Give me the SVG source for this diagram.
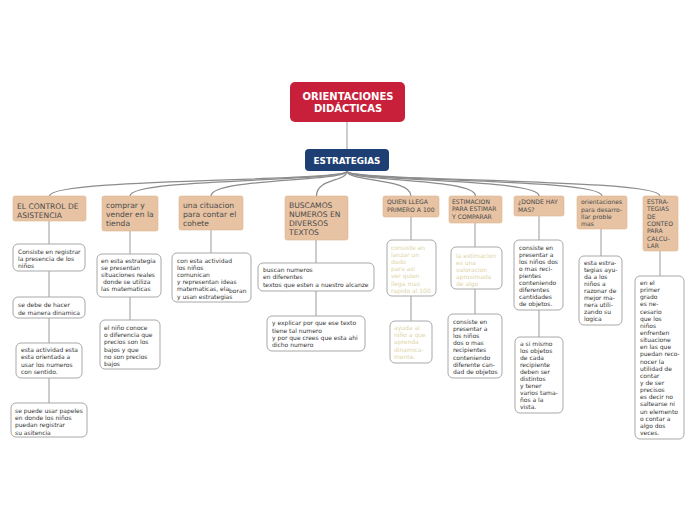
<svg xmlns="http://www.w3.org/2000/svg" width="696" height="520" viewBox="0 0 696 520">
<style>
.bg{fill:#ffffff}
.conn path{fill:none;stroke:#8c8c8c;stroke-width:1.3}
.conn line{stroke:#9a9a9a;stroke-width:1}
.root rect{fill:#c8203a}
.main rect{fill:#1e3f73}
.wt{fill:#ffffff;font-family:"DejaVu Sans",Verdana,sans-serif;font-weight:bold}
.tan rect{fill:#e7c3a3;stroke:#dcb592;stroke-width:0.6}
.tt{fill:#4a4a4a;font-family:"DejaVu Sans",Verdana,sans-serif;font-size:7.6px}
.ts{fill:#4a4a4a;font-family:"DejaVu Sans",Verdana,sans-serif;font-size:6.1px}
.box rect{fill:#ffffff;stroke:#a8a8a8;stroke-width:1}
.bt{fill:#333333;font-family:"DejaVu Sans",Verdana,sans-serif;font-size:6px}
.ft{fill:#ddd3a6;font-family:"DejaVu Sans",Verdana,sans-serif;font-size:6px}
</style>
<rect class="bg" x="0" y="0" width="696" height="520"/>
<g class="conn">
<line x1="347" y1="122" x2="347" y2="149"/>
<path d="M347,171 C347,182 49.5,178 49.5,196"/>
<path d="M347,171 C347,182 130,178 130,196"/>
<path d="M347,171 C347,182 211,178 211,196"/>
<path d="M347,171 C347,182 316.5,178 316.5,196"/>
<path d="M347,171 C347,182 411,178 411,196"/>
<path d="M347,171 C347,182 475.5,178 475.5,196"/>
<path d="M347,171 C347,182 539,178 539,196"/>
<path d="M347,171 C347,182 602,178 602,196"/>
<path d="M347,171 C347,182 660,178 660,196"/>
<line x1="49" y1="221" x2="49" y2="244"/>
<line x1="49" y1="271" x2="49" y2="297"/>
<line x1="49" y1="318" x2="49" y2="343"/>
<line x1="49" y1="378" x2="49" y2="403"/>
<line x1="130" y1="231" x2="130" y2="254"/>
<line x1="130" y1="297" x2="130" y2="320"/>
<line x1="211" y1="230" x2="211" y2="253"/>
<line x1="316" y1="240" x2="316" y2="263"/>
<line x1="316" y1="291" x2="316" y2="316"/>
<line x1="411" y1="217" x2="411" y2="240"/>
<line x1="411" y1="296" x2="411" y2="321"/>
<line x1="475" y1="223" x2="475" y2="247"/>
<line x1="475" y1="289" x2="475" y2="314"/>
<line x1="539" y1="216" x2="539" y2="240"/>
<line x1="539" y1="310" x2="539" y2="337"/>
<line x1="601" y1="229" x2="601" y2="256"/>
<line x1="660" y1="251" x2="660" y2="276"/>
</g>
<g id="root" class="root">
<rect x="290" y="82" width="115" height="40" rx="5"/>
<text class="wt" font-size="10" text-anchor="middle"><tspan x="348" y="99.7">ORIENTACIONES</tspan><tspan x="348" y="111.7">DIDÁCTICAS</tspan></text>
</g>
<g id="estrategias" class="main">
<rect x="305" y="149" width="84" height="22" rx="4"/>
<text class="wt" font-size="8.8" x="347" y="164" text-anchor="middle">ESTRATEGIAS</text>
</g>
<g id="n1" class="tan">
<rect x="13" y="196" width="73" height="25" rx="2"/>
<text class="tt"><tspan x="17" y="208.5">EL CONTROL DE</tspan><tspan x="17" y="217.5">ASISTENCIA</tspan></text>
</g>
<g id="n2" class="tan">
<rect x="102" y="196" width="56" height="35" rx="2"/>
<text class="tt"><tspan x="106" y="207.5">comprar y</tspan><tspan x="106" y="216.5">vender en la</tspan><tspan x="106" y="225.5">tienda</tspan></text>
</g>
<g id="n3" class="tan">
<rect x="179" y="196" width="64" height="34" rx="2"/>
<text class="tt"><tspan x="183" y="207.5">una cituacion</tspan><tspan x="183" y="216.5">para contar el</tspan><tspan x="183" y="225.5">cohete</tspan></text>
</g>
<g id="n4" class="tan">
<rect x="285" y="196" width="63" height="44" rx="2"/>
<text class="tt"><tspan x="289" y="207.5">BUSCAMOS</tspan><tspan x="289" y="216.5">NUMEROS EN</tspan><tspan x="289" y="225.5">DIVERSOS</tspan><tspan x="289" y="234.5">TEXTOS</tspan></text>
</g>
<g id="n5" class="tan">
<rect x="383" y="196" width="56" height="21" rx="2"/>
<text class="ts"><tspan x="387" y="204.2">QUIEN LLEGA</tspan><tspan x="387" y="211.8">PRIMERO A 100</tspan></text>
</g>
<g id="n6" class="tan">
<rect x="449" y="196" width="53" height="27" rx="2"/>
<text class="ts"><tspan x="452" y="204">ESTIMACION</tspan><tspan x="452" y="211.4">PARA ESTIMAR</tspan><tspan x="452" y="218.8">Y COMPARAR</tspan></text>
</g>
<g id="n7" class="tan">
<rect x="514" y="196" width="50" height="20" rx="2"/>
<text class="ts"><tspan x="518" y="204">¿DONDE HAY</tspan><tspan x="518" y="211.5">MAS?</tspan></text>
</g>
<g id="n8" class="tan">
<rect x="577" y="196" width="50" height="33" rx="2"/>
<text class="ts" font-size="5.9"><tspan x="581" y="204">orientaciones</tspan><tspan x="581" y="211.5">para desarro-</tspan><tspan x="581" y="218.5">llar proble</tspan><tspan x="581" y="225.5">mas</tspan></text>
</g>
<g id="n9" class="tan">
<rect x="643" y="196" width="35" height="55" rx="2"/>
<text class="ts"><tspan x="647" y="203.5">ESTRA-</tspan><tspan x="647" y="211">TEGIAS</tspan><tspan x="647" y="218.5">DE</tspan><tspan x="647" y="226">CONTEO</tspan><tspan x="647" y="233">PARA</tspan><tspan x="647" y="240.5">CALCU-</tspan><tspan x="647" y="247.5">LAR</tspan></text>
</g>
<g id="c1a" class="box">
<rect x="13" y="244" width="72" height="27" rx="5"/>
<text class="bt"><tspan x="18" y="253.5">Consiste en registrar</tspan><tspan x="18" y="260.8">la presencia de los</tspan><tspan x="18" y="268">niños</tspan></text>
</g>
<g id="c1b" class="box">
<rect x="13" y="297" width="72" height="21" rx="5"/>
<text class="bt"><tspan x="18" y="307">se debe de hacer</tspan><tspan x="18" y="314.5">de manera dinamica</tspan></text>
</g>
<g id="c1c" class="box">
<rect x="16" y="343" width="66" height="35" rx="5"/>
<text class="bt"><tspan x="21" y="352">esta actividad esta</tspan><tspan x="21" y="359.3">esta orientada a</tspan><tspan x="21" y="366.6">usar los numeros</tspan><tspan x="21" y="374">con sentido.</tspan></text>
</g>
<g id="c1d" class="box">
<rect x="11" y="403" width="76" height="34" rx="5"/>
<text class="bt"><tspan x="15" y="413">se puede usar papeles</tspan><tspan x="15" y="420.2">en donde los niños</tspan><tspan x="15" y="427.4">puedan registrar</tspan><tspan x="15" y="434.6">su asitencia</tspan></text>
</g>
<g id="c2a" class="box">
<rect x="97" y="254" width="64" height="43" rx="5"/>
<text class="bt"><tspan x="101" y="263">en esta estrategia</tspan><tspan x="101" y="270">se presentan</tspan><tspan x="101" y="277">situaciones reales</tspan><tspan x="101" y="284"> donde se utiliza</tspan><tspan x="101" y="291">las matematicas</tspan></text>
</g>
<g id="c2b" class="box">
<rect x="100" y="320" width="60" height="49" rx="5"/>
<text class="bt"><tspan x="104" y="330">el niño conoce</tspan><tspan x="104" y="337.2">o diferencia que</tspan><tspan x="104" y="344.4">precios son los</tspan><tspan x="104" y="351.6">bajos y que</tspan><tspan x="104" y="358.8">no son precios</tspan><tspan x="104" y="366">bajos</tspan></text>
</g>
<g id="c3a" class="box">
<rect x="172" y="253" width="79" height="49" rx="5"/>
<text class="bt"><tspan x="177" y="263">con esta actividad</tspan><tspan x="177" y="270">los niños</tspan><tspan x="177" y="277.2">comunican</tspan><tspan x="177" y="284.3">y representan ideas</tspan><tspan x="177" y="291.4">matematicas, ela</tspan><tspan dy="1.6">boran</tspan><tspan x="177" y="298.5">y usan estrategias</tspan></text>
</g>
<g id="c4a" class="box">
<rect x="258" y="263" width="116" height="28" rx="5"/>
<text class="bt"><tspan x="263" y="272">buscan numeros</tspan><tspan x="263" y="279.3">en diferentes</tspan><tspan x="263" y="286.6">textos que esten a nuestro alcanze</tspan></text>
</g>
<g id="c4b" class="box">
<rect x="267" y="316" width="98" height="35" rx="5"/>
<text class="bt"><tspan x="272" y="325.3">y explicar por que ese texto</tspan><tspan x="272" y="332.5">tiene tal numero</tspan><tspan x="272" y="339.7">y por que crees que esta ahi</tspan><tspan x="272" y="347">dicho numero</tspan></text>
</g>
<g id="c5a" class="box">
<rect x="387" y="240" width="49" height="56" rx="5"/>
<text class="ft"><tspan x="391" y="250">consiste en</tspan><tspan x="391" y="257.1">lanzar un</tspan><tspan x="391" y="264.2">dado</tspan><tspan x="391" y="271.3">para asi</tspan><tspan x="391" y="278.4">ver quien</tspan><tspan x="391" y="285.5">llega mas</tspan><tspan x="391" y="292.6">rapido al 100</tspan></text>
</g>
<g id="c5b" class="box">
<rect x="390" y="321" width="42" height="42" rx="5"/>
<text class="ft"><tspan x="394" y="330">ayuda al</tspan><tspan x="394" y="337.2">niño a que</tspan><tspan x="394" y="344.4">aprenda</tspan><tspan x="394" y="351.6">dinamica-</tspan><tspan x="394" y="358.8">mente.</tspan></text>
</g>
<g id="c6a" class="box">
<rect x="451" y="247" width="51" height="42" rx="5"/>
<text class="ft"><tspan x="456" y="257.5">la estimacion</tspan><tspan x="456" y="264.5">es una</tspan><tspan x="456" y="271.5">valoracion</tspan><tspan x="456" y="278.5">aprosimada</tspan><tspan x="456" y="285.5">de algo</tspan></text>
</g>
<g id="c6b" class="box">
<rect x="448" y="314" width="54" height="64" rx="5"/>
<text class="bt"><tspan x="453" y="324">consiste en</tspan><tspan x="453" y="331.1">presentar a</tspan><tspan x="453" y="338.2">los niños</tspan><tspan x="453" y="345.3">dos o mas</tspan><tspan x="453" y="352.4">recipientes</tspan><tspan x="453" y="359.5">conteniendo</tspan><tspan x="453" y="366.6">diferente can-</tspan><tspan x="453" y="373.7">dad de objetos</tspan></text>
</g>
<g id="c7a" class="box">
<rect x="514" y="240" width="49" height="70" rx="5"/>
<text class="bt"><tspan x="519" y="249.5">consiste en</tspan><tspan x="519" y="256.5">presentar a</tspan><tspan x="519" y="263.5">los niños dos</tspan><tspan x="519" y="270.5">o mas reci-</tspan><tspan x="519" y="277.5">pientes</tspan><tspan x="519" y="284.5">conteniendo</tspan><tspan x="519" y="291.5">diferentes</tspan><tspan x="519" y="298.5">cantidades</tspan><tspan x="519" y="305.5">de objetos.</tspan></text>
</g>
<g id="c7b" class="box">
<rect x="515" y="337" width="48" height="76" rx="5"/>
<text class="bt"><tspan x="520" y="345.5">a si mismo</tspan><tspan x="520" y="352.6">los objetos</tspan><tspan x="520" y="359.7">de cada</tspan><tspan x="520" y="366.8">recipiente</tspan><tspan x="520" y="373.9">deben ser</tspan><tspan x="520" y="381">distintos</tspan><tspan x="520" y="388.1">y tener</tspan><tspan x="520" y="395.2">varios tama-</tspan><tspan x="520" y="402.3">ños a la</tspan><tspan x="520" y="409.4">vista.</tspan></text>
</g>
<g id="c8a" class="box">
<rect x="579" y="256" width="43" height="69" rx="5"/>
<text class="bt"><tspan x="584" y="264.5">esta estra-</tspan><tspan x="584" y="271.5">tegias ayu-</tspan><tspan x="584" y="278.5">da a los</tspan><tspan x="584" y="285.5">niños a</tspan><tspan x="584" y="292.5">razonar de</tspan><tspan x="584" y="299.5">mejor ma-</tspan><tspan x="584" y="306.5">nera utili-</tspan><tspan x="584" y="313.5">zando su</tspan><tspan x="584" y="320.5">logica</tspan></text>
</g>
<g id="c9a" class="box">
<rect x="635" y="276" width="49" height="163" rx="5"/>
<text class="bt"><tspan x="640" y="285">en el</tspan><tspan x="640" y="292.14">primer</tspan><tspan x="640" y="299.28">grado</tspan><tspan x="640" y="306.42">es ne-</tspan><tspan x="640" y="313.56">cesario</tspan><tspan x="640" y="320.7">que los</tspan><tspan x="640" y="327.84">niños</tspan><tspan x="640" y="334.98">enfrenten</tspan><tspan x="640" y="342.12">situacione</tspan><tspan x="640" y="349.26">en las que</tspan><tspan x="640" y="356.4">puedan reco-</tspan><tspan x="640" y="363.54">nocer la</tspan><tspan x="640" y="370.68">utilidad de</tspan><tspan x="640" y="377.82">contar</tspan><tspan x="640" y="384.96">y de ser</tspan><tspan x="640" y="392.1">precisos</tspan><tspan x="640" y="399.24">es decir no</tspan><tspan x="640" y="406.38">saltearse ni</tspan><tspan x="640" y="413.52">un elemento</tspan><tspan x="640" y="420.66">o contar a</tspan><tspan x="640" y="427.8">algo dos</tspan><tspan x="640" y="434.94">veces.</tspan></text>
</g>
</svg>
